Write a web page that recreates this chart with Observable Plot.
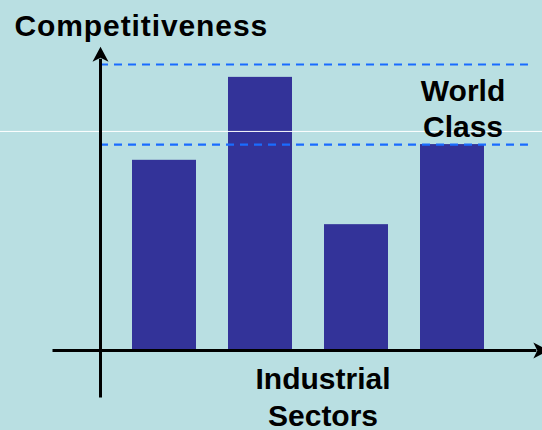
<!DOCTYPE html>
<html>
<head>
<meta charset="utf-8">
<script src="https://cdn.jsdelivr.net/npm/d3@7"></script>
<script src="https://cdn.jsdelivr.net/npm/@observablehq/plot@0.6"></script>
<style>
  html, body { margin: 0; padding: 0; background: #b9dfe2; }
  #chart { width: 542px; height: 430px; overflow: hidden; }
</style>
</head>
<body>
<div id="chart"></div>
<script>
// ---- data ----
const sectorIndex = [0, 1, 2, 3];
const competitiveness = [66.5, 95.5, 44, 72];
const worldClassLevels = [72, 100];
const guideLevel = [76.6];
const yAxisLabel = ["Competitiveness"];
const xAxisLabel = ["Industrial\nSectors"];
const bandLabel = ["World\nClass"];

// axis extents (data units)
const xAxisExtent = [-0.5, 4.54];
const yAxisExtent = [-16.4, 102];

const bars = sectorIndex.map((i, k) => ({i, v: competitiveness[k]}));

const font = "'Liberation Sans', Arial, sans-serif";

const plot = Plot.plot({
  width: 542,
  height: 430,
  margin: 0,
  style: {background: "#b9dfe2", fontFamily: font, overflow: "visible"},
  x: {type: "linear", domain: [0, 4], range: [100, 484], axis: null},
  y: {type: "linear", domain: [0, 100], range: [350, 64], axis: null},
  marks: [
    Plot.rectY(bars, {x1: d => d.i + 1/3, x2: d => d.i + 1, y1: 0, y2: "v", fill: "#333399", inset: 0}),
    Plot.ruleY(guideLevel, {stroke: "white", strokeWidth: 1}),
    Plot.ruleY(worldClassLevels, {x1: 0, x2: 4.458, stroke: "#1a6cff", strokeWidth: 2.2, strokeDasharray: "8,6"}),
    Plot.link([0], {x1: xAxisExtent[0], x2: xAxisExtent[1], y1: 0, y2: 0, stroke: "black", strokeWidth: 3}),
    Plot.link([0], {x1: 0, x2: 0, y1: yAxisExtent[0], y2: yAxisExtent[1], stroke: "black", strokeWidth: 3}),
    Plot.text(yAxisLabel, {x: -0.896, y: 109.8, text: d => d, textAnchor: "start", lineAnchor: "bottom", fontSize: 30, fontWeight: "bold", fill: "black"}),
    Plot.text(bandLabel, {x: 3.776, y: 74.65, text: d => d, textAnchor: "middle", lineAnchor: "bottom", lineHeight: 1.2, fontSize: 30, fontWeight: "bold", fill: "black"}),
    Plot.text(xAxisLabel, {x: 2.318, y: -26.4, text: d => d, textAnchor: "middle", lineAnchor: "bottom", lineHeight: 1.25, fontSize: 30, fontWeight: "bold", fill: "black"})
  ]
});

// arrowheads on the axis lines
const svg = d3.select(plot);
const defs = svg.insert("defs", ":first-child");
defs.append("marker")
  .attr("id", "axis-arrow")
  .attr("markerUnits", "userSpaceOnUse")
  .attr("viewBox", "-5 -10 20 20")
  .attr("markerWidth", 20)
  .attr("markerHeight", 20)
  .attr("refX", 0)
  .attr("refY", 0)
  .attr("orient", "auto")
  .append("path")
  .attr("d", "M12,0 L-3,-8 L1,0 L-3,8 Z")
  .attr("fill", "black");
svg.selectAll('g[aria-label="link"] path')
  .attr("marker-end", "url(#axis-arrow)");

// the title text is slightly wider in the reference
svg.selectAll('g[aria-label="text"] text')
  .filter(function () { return this.textContent === "Competitiveness"; })
  .style("letter-spacing", "0.9px");

document.getElementById("chart").append(plot);
</script>
</body>
</html>
